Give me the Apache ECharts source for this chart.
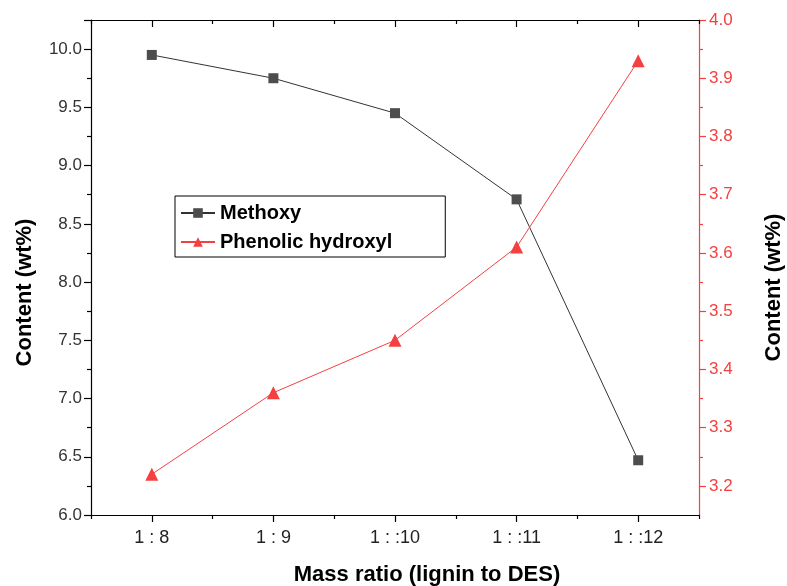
<!DOCTYPE html>
<html>
<head>
<meta charset="utf-8">
<script src="https://cdn.jsdelivr.net/npm/echarts@6/dist/echarts.min.js"></script>
<style>html,body{margin:0;padding:0;background:#fff}#c{width:787px;height:586px}</style>
</head>
<body>
<div id="c"></div>
<script>
var categories = ['1 : 8', '1 : 9', '1 : :10', '1 : :11', '1 : :12'];
var methoxy = [9.95, 9.75, 9.45, 8.71, 6.47];
var phenolic = [3.22, 3.36, 3.45, 3.61, 3.93];
var rightMajor = [3.2, 3.3, 3.4, 3.5, 3.6, 3.7, 3.8, 3.9, 4.0];
var rightMinor = [3.25, 3.35, 3.45, 3.55, 3.65, 3.75, 3.85, 3.95];

var FONT = 'Arial, "Liberation Sans", sans-serif';
var RED = '#f44040';
var chart = echarts.init(document.getElementById('c'));
var catAxis = function (extra) {
  return Object.assign({
    type: 'category', data: categories, gridIndex: 0, boundaryGap: true,
    axisLine: { show: false }, axisLabel: { show: false }, splitLine: { show: false },
    axisTick: { show: false }
  }, extra);
};
chart.setOption({
  animation: false,
  grid: { left: 91, right: 88, top: 20, bottom: 71, outerBoundsMode: 'none', containLabel: false },
  legend: {
    orient: 'vertical', left: 175, top: 196,
    borderColor: '#000', borderWidth: 1, padding: [7, 53, 5, 5],
    itemWidth: 34, itemHeight: 12, itemGap: 9,
    textStyle: { fontFamily: FONT, fontSize: 20, fontWeight: 'bold', color: '#000' },
    data: ['Methoxy', 'Phenolic hydroxyl']
  },
  xAxis: [
    catAxis({
      position: 'bottom',
      axisLine: { show: true, lineStyle: { color: '#000', width: 1.2 } },
      axisTick: { show: true, alignWithLabel: true, length: 7, lineStyle: { color: '#000', width: 1.2 } },
      axisLabel: { show: true, fontFamily: FONT, fontSize: 18, color: '#222', margin: 14 },
      name: 'Mass ratio (lignin to DES)', nameLocation: 'middle', nameGap: 49,
      nameTextStyle: { fontFamily: FONT, fontSize: 22, fontWeight: 'bold', color: '#000', padding: [0, 0, 0, 64] }
    }),
    catAxis({
      position: 'bottom',
      axisTick: { show: true, length: 4, lineStyle: { color: '#000', width: 1.2 } }
    }),
    catAxis({
      position: 'top',
      axisLine: { show: true, lineStyle: { color: '#000', width: 1.2 } },
      axisTick: { show: true, alignWithLabel: true, inside: true, length: 7, lineStyle: { color: '#000', width: 1.2 } }
    }),
    catAxis({
      position: 'top',
      axisTick: { show: true, inside: true, length: 4, lineStyle: { color: '#000', width: 1.2 } }
    })
  ],
  yAxis: [
    {
      type: 'value', position: 'left', min: 6, max: 10.25, interval: 0.5,
      axisLine: { show: true, lineStyle: { color: '#000', width: 1.2 } },
      axisTick: { show: true, length: 7, lineStyle: { color: '#000', width: 1.2 } },
      minorTick: { show: true, splitNumber: 2, length: 4, lineStyle: { color: '#000', width: 1.2 } },
      splitLine: { show: false },
      axisLabel: { fontFamily: FONT, fontSize: 17, color: '#333', margin: 9, showMaxLabel: false,
        formatter: function (v) { return v.toFixed(1); } },
      name: 'Content (wt%)', nameLocation: 'middle', nameGap: 55, nameRotate: 90,
      nameTextStyle: { fontFamily: FONT, fontSize: 22, fontWeight: 'bold', color: '#000', padding: [0, 50, 0, 0] }
    },
    {
      type: 'value', position: 'right', min: 3.15, max: 4.0,
      axisLine: { show: true, lineStyle: { color: RED, width: 1.2 } },
      axisTick: { show: true, length: 7, customValues: rightMajor, lineStyle: { color: RED, width: 1.2 } },
      splitLine: { show: false },
      axisLabel: { fontFamily: FONT, fontSize: 17, color: RED, margin: 10, customValues: rightMajor,
        formatter: function (v) { return v.toFixed(1); } },
      name: 'Content (wt%)', nameLocation: 'middle', nameGap: 64, nameRotate: 90,
      nameTextStyle: { fontFamily: FONT, fontSize: 22, fontWeight: 'bold', color: '#000', padding: [0, 40, 0, 0] }
    },
    {
      type: 'value', position: 'right', min: 3.15, max: 4.0,
      axisLine: { show: false },
      axisTick: { show: true, length: 4, customValues: rightMinor, lineStyle: { color: RED, width: 1.2 } },
      splitLine: { show: false },
      axisLabel: { show: false }
    }
  ],
  series: [
    {
      name: 'Methoxy', type: 'line', xAxisIndex: 0, yAxisIndex: 0, data: methoxy,
      symbol: 'rect', symbolSize: 10,
      itemStyle: { color: '#4d4d4d' },
      lineStyle: { color: '#333', width: 1 }
    },
    {
      name: 'Phenolic hydroxyl', type: 'line', xAxisIndex: 0, yAxisIndex: 1, data: phenolic,
      symbol: 'triangle', symbolSize: 13,
      itemStyle: { color: RED },
      lineStyle: { color: RED, width: 1 }
    }
  ]
});
</script>
</body>
</html>
